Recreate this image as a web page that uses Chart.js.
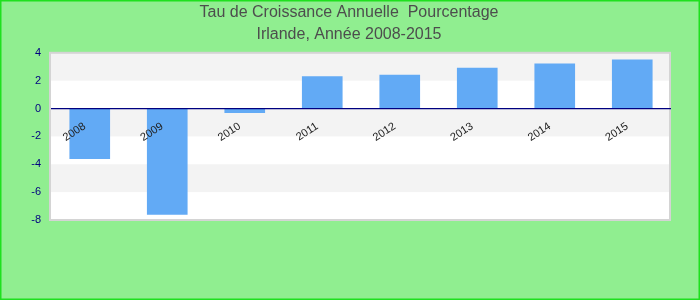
<!DOCTYPE html>
<html>
<head>
<meta charset="utf-8">
<script src="https://cdn.jsdelivr.net/npm/chart.js@4"></script>
<style>
  html, body { margin: 0; padding: 0; background: #90EE90; }
  #wrap { width: 700px; height: 300px; position: relative; }
</style>
</head>
<body>
<div id="wrap"><canvas id="c" width="700" height="300"></canvas></div>
<script>
const categories = ['2008', '2009', '2010', '2011', '2012', '2013', '2014', '2015'];
const growthValues = [-3.6, -7.6, -0.3, 2.3, 2.4, 2.9, 3.2, 3.5];
const titleLines = ['Tau de Croissance Annuelle  Pourcentage', 'Irlande, Année 2008-2015'];
const yMin = -8, yMax = 4, yStep = 2;

const backgroundPlugin = {
  id: 'bgBands',
  beforeDraw(chart) {
    const ctx = chart.ctx;
    const area = chart.chartArea;
    const y = chart.scales.y;
    ctx.save();
    ctx.fillStyle = '#90EE90';
    ctx.fillRect(0, 0, chart.width, chart.height);
    ctx.strokeStyle = '#1fe01f';
    ctx.lineWidth = 1.5;
    ctx.strokeRect(0.75, 0.75, chart.width - 1.5, chart.height - 1.5);
    ctx.fillStyle = '#ffffff';
    ctx.fillRect(area.left, area.top, area.right - area.left, area.bottom - area.top);
    let idx = 0;
    for (let v = yMax; v > yMin; v -= yStep) {
      const top = y.getPixelForValue(v);
      const bot = y.getPixelForValue(v - yStep);
      if (idx % 2 === 0) {
        ctx.fillStyle = '#f3f3f3';
        ctx.fillRect(area.left, top, area.right - area.left, bot - top);
      }
      idx++;
    }
    ctx.strokeStyle = '#d4d4d4';
    ctx.lineWidth = 2;
    ctx.strokeRect(area.left - 1, area.top, area.right - area.left, area.bottom - area.top);
    ctx.restore();
  }
};

new Chart(document.getElementById('c'), {
  type: 'bar',
  data: {
    labels: categories,
    datasets: [{
      data: growthValues,
      backgroundColor: '#62aaf5',
      borderWidth: 0,
      barThickness: 40
    }]
  },
  options: {
    responsive: false,
    animation: false,
    events: [],
    layout: { padding: { left: 27, right: 29, top: 0, bottom: 80 } },
    plugins: {
      legend: { display: false },
      tooltip: { enabled: false },
      title: {
        display: true,
        text: titleLines,
        color: '#4d4d4d',
        font: { family: '"Liberation Sans", Arial, sans-serif', size: 16, weight: 'normal', lineHeight: 1.4 },
        padding: { top: 1, bottom: 7 }
      }
    },
    scales: {
      x: {
        type: 'category',
        position: { y: 0 },
        grid: { display: false, drawTicks: false },
        border: { display: false },
        ticks: {
          z: 1,
          autoSkip: false,
          minRotation: 33,
          maxRotation: 33,
          padding: 8,
          color: '#222222',
          font: { family: '"Liberation Sans", Arial, sans-serif', size: 11 },
          callback(value) { return this.getLabelForValue(value) + '  '; }
        }
      },
      y: {
        min: yMin,
        max: yMax,
        afterFit(scale) { scale.width = 24; },
        grid: {
          z: 1,
          drawTicks: false,
          color: (ctx) => (ctx.tick && ctx.tick.value === 0 ? '#000080' : 'rgba(0,0,0,0)'),
          lineWidth: 1.2
        },
        border: { display: false },
        ticks: {
          stepSize: yStep,
          padding: 10,
          color: '#000080',
          font: { family: '"Liberation Sans", Arial, sans-serif', size: 11 }
        }
      }
    }
  },
  plugins: [backgroundPlugin]
});
</script>
</body>
</html>
